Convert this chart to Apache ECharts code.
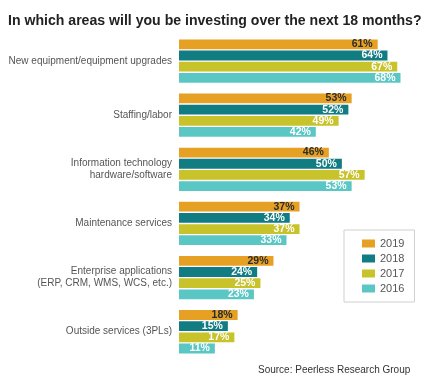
<!DOCTYPE html>
<html><head><meta charset="utf-8">
<script src="https://cdn.jsdelivr.net/npm/echarts@6/dist/echarts.min.js"></script>
<style>html,body{margin:0;padding:0;background:#fff}#c{width:427px;height:390px}</style>
</head><body><div id="c"></div>
<script>
var categories = ["New equipment/equipment upgrades","Staffing/labor","Information technology\nhardware/software","Maintenance services","Enterprise applications\n(ERP, CRM, WMS, WCS, etc.)","Outside services (3PLs)"];
var years = ["2019","2018","2017","2016"];
var v2019 = [61,53,46,37,29,18];
var v2018 = [64,52,50,34,24,15];
var v2017 = [67,49,57,37,25,17];
var v2016 = [68,42,53,33,23,11];
var colors = ["#E6A024","#117D83","#C8C22B","#5BC7C5"];
var labelColors = ["#2b2b2b","#ffffff","#ffffff","#ffffff"];
var values = [v2019,v2018,v2017,v2016];
var font = "'Liberation Sans', Arial, Helvetica, sans-serif";
var chart = echarts.init(document.getElementById('c'));
chart.setOption({
  animation:false,
  textStyle:{fontFamily:font},
  title:{text:"In which areas will you be investing over the next 18 months?",left:8,top:14,padding:0,
    textStyle:{fontFamily:font,fontSize:14.1,fontWeight:'bold',color:'#222'}},
  graphic:[{type:'text',left:258,top:365,style:{text:"Source: Peerless Research Group",font:"10px "+font,fill:'#333'}}],
  legend:{orient:'vertical',left:344,top:230,width:69,data:years,itemWidth:13,itemHeight:8,itemGap:4,
    padding:[8,10,8,18],borderColor:'#cfcfcf',borderWidth:1,icon:'rect',
    textStyle:{fontFamily:font,fontSize:11,color:'#555'}},
  grid:{left:179,right:3.7,top:34,bottom:31.2,containLabel:false},
  xAxis:{type:'value',min:0,max:75,show:false},
  yAxis:{type:'category',data:categories,inverse:true,axisLine:{show:false},axisTick:{show:false},
    axisLabel:{margin:7,fontSize:10,color:'#555',lineHeight:12,fontFamily:font}},
  series:years.map(function(y,i){return {name:y,type:'bar',data:values[i],barWidth:9.8,barGap:'14%',barCategoryGap:'20%',
    itemStyle:{color:colors[i]},
    label:{show:true,position:'insideRight',distance:5,formatter:'{c}%',fontSize:10.5,fontWeight:'bold',color:labelColors[i],fontFamily:font}};})
});
</script></body></html>
